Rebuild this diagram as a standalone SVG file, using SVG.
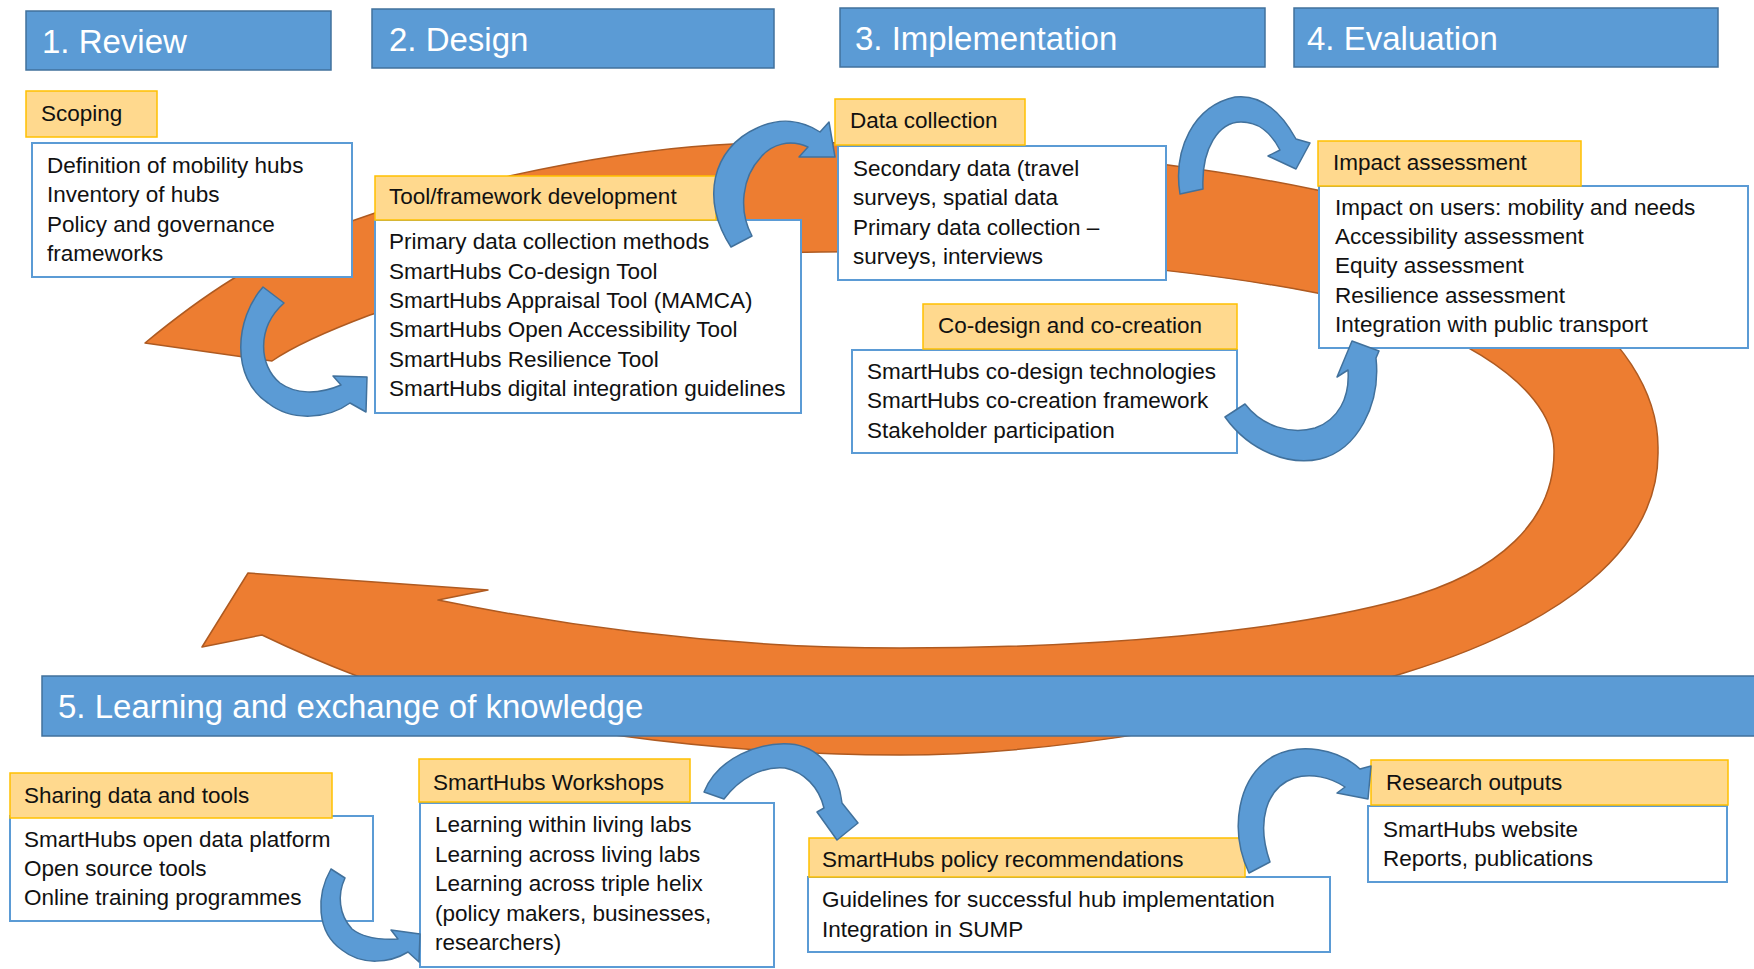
<svg xmlns="http://www.w3.org/2000/svg" width="1754" height="969" viewBox="0 0 1754 969">
<style>
.hdr{fill:#5B9BD5;stroke:#41719C;stroke-width:1.5}
.ht{font-family:"Liberation Sans",Arial,sans-serif;font-size:33px;fill:#fff}
.lbl{fill:#FFD98E;stroke:#FFC000;stroke-width:1.5}
.box{fill:#fff;stroke:#5B9BD5;stroke-width:2}
.t{font-family:"Liberation Sans",Arial,sans-serif;font-size:22.5px;fill:#111}
.ba{fill:#5B9BD5;stroke:#41719C;stroke-width:1.5;stroke-linejoin:round}
.orange{fill:#ED7D31;stroke:#AE5A21;stroke-width:1.5;stroke-linejoin:round}
</style>
<rect width="1754" height="969" fill="#fff"/>

<g id="cycle-arrow">
<path class="orange" d="M145,343 C185,310 260,250 375,213 C490,175 640,145 760,143 C950,140 1150,155 1317,190 C1500,230 1660,330 1658,450 C1660,550 1560,625 1404,673 C1250,722 1050,755 900,755 C720,755 500,728 357,676 Q310,658 262,635 L202,647 L248,573 L488,590 L438,600 C560,625 720,648 900,648 C1100,648 1280,632 1400,600 C1500,573 1555,520 1554,450 C1553,380 1440,320 1317,293 C1200,270 1000,250 820,252 C650,254 480,280 370,315 C330,330 295,345 272,361 Z"/>
</g>

<g id="hdr-review"><rect class="hdr" x="26" y="11" width="305" height="59"/><text class="ht" x="42" y="53">1. Review</text></g>
<g id="hdr-design"><rect class="hdr" x="372" y="9" width="402" height="59"/><text class="ht" x="389" y="51">2. Design</text></g>
<g id="hdr-implementation"><rect class="hdr" x="840" y="8" width="425" height="59"/><text class="ht" x="855" y="50">3. Implementation</text></g>
<g id="hdr-evaluation"><rect class="hdr" x="1294" y="8" width="424" height="59"/><text class="ht" x="1307" y="50">4. Evaluation</text></g>
<g id="hdr-learning"><rect class="hdr" x="42" y="676" width="1720" height="60"/><text class="ht" x="58" y="718">5. Learning and exchange of knowledge</text></g>

<g id="node-scoping">
<rect class="box" x="32" y="143" width="320" height="134"/>
<rect class="lbl" x="26" y="91" width="131" height="46"/>
<text class="t" x="41" y="121">Scoping</text>
<text class="t" x="47" y="173">Definition of mobility hubs</text>
<text class="t" x="47" y="202">Inventory of hubs</text>
<text class="t" x="47" y="231.5">Policy and governance</text>
<text class="t" x="47" y="261">frameworks</text>
</g>

<g id="node-tool">
<rect class="box" x="375" y="220" width="426" height="193"/>
<rect class="lbl" x="375" y="176" width="341" height="44"/>
<text class="t" x="389" y="204">Tool/framework development</text>
<text class="t" x="389" y="249">Primary data collection methods</text>
<text class="t" x="389" y="278.5">SmartHubs Co-design Tool</text>
<text class="t" x="389" y="308">SmartHubs Appraisal Tool (MAMCA)</text>
<text class="t" x="389" y="337">SmartHubs Open Accessibility Tool</text>
<text class="t" x="389" y="366.5">SmartHubs Resilience Tool</text>
<text class="t" x="389" y="396">SmartHubs digital integration guidelines</text>
</g>

<g id="node-data">
<rect class="box" x="838" y="146" width="328" height="134"/>
<rect class="lbl" x="835" y="99" width="190" height="46"/>
<text class="t" x="850" y="128">Data collection</text>
<text class="t" x="853" y="176">Secondary data (travel</text>
<text class="t" x="853" y="205">surveys, spatial data</text>
<text class="t" x="853" y="234.5">Primary data collection –</text>
<text class="t" x="853" y="264">surveys, interviews</text>
</g>

<g id="node-codesign">
<rect class="box" x="852" y="350" width="385" height="103"/>
<rect class="lbl" x="923" y="304" width="314" height="45"/>
<text class="t" x="938" y="333">Co-design and co-creation</text>
<text class="t" x="867" y="379">SmartHubs co-design technologies</text>
<text class="t" x="867" y="408">SmartHubs co-creation framework</text>
<text class="t" x="867" y="438">Stakeholder participation</text>
</g>

<g id="node-impact">
<rect class="box" x="1319" y="186" width="429" height="162"/>
<rect class="lbl" x="1318" y="141" width="263" height="45"/>
<text class="t" x="1333" y="170">Impact assessment</text>
<text class="t" x="1335" y="215">Impact on users: mobility and needs</text>
<text class="t" x="1335" y="244">Accessibility assessment</text>
<text class="t" x="1335" y="273">Equity assessment</text>
<text class="t" x="1335" y="303">Resilience assessment</text>
<text class="t" x="1335" y="332">Integration with public transport</text>
</g>

<g id="node-sharing">
<rect class="box" x="10" y="816" width="363" height="105"/>
<rect class="lbl" x="10" y="773" width="322" height="45"/>
<text class="t" x="24" y="803">Sharing data and tools</text>
<text class="t" x="24" y="847">SmartHubs open data platform</text>
<text class="t" x="24" y="876">Open source tools</text>
<text class="t" x="24" y="905">Online training programmes</text>
</g>

<g id="node-workshops">
<rect class="box" x="420" y="803" width="354" height="164"/>
<rect class="lbl" x="419" y="759" width="271" height="43"/>
<text class="t" x="433" y="790">SmartHubs Workshops</text>
<text class="t" x="435" y="832">Learning within living labs</text>
<text class="t" x="435" y="861.5">Learning across living labs</text>
<text class="t" x="435" y="891">Learning across triple helix</text>
<text class="t" x="435" y="920.5">(policy makers, businesses,</text>
<text class="t" x="435" y="950">researchers)</text>
</g>

<g id="node-policy">
<rect class="box" x="808" y="877" width="522" height="75"/>
<rect class="lbl" x="809" y="838" width="436" height="39"/>
<text class="t" x="822" y="867">SmartHubs policy recommendations</text>
<text class="t" x="822" y="907">Guidelines for successful hub implementation</text>
<text class="t" x="822" y="937">Integration in SUMP</text>
</g>

<g id="node-research">
<rect class="box" x="1368" y="806" width="359" height="76"/>
<rect class="lbl" x="1371" y="760" width="357" height="45"/>
<text class="t" x="1386" y="790">Research outputs</text>
<text class="t" x="1383" y="837">SmartHubs website</text>
<text class="t" x="1383" y="866">Reports, publications</text>
</g>

<g id="connectors">
<path id="arrow-scoping-tool" class="ba" d="M263,287 C235,318 230,378 268,403 C292,422 328,419 350,403 L366,412 L367,377 L333,376 L341,385 C318,395 295,394 280,383 C259,366 256,328 284,303 Z"/>
<path id="arrow-tool-data" class="ba" d="M731,247 C700,200 712,148 757,128 C780,117 802,120 820,132 L829,122 L835,157 L799,157 L808,147 C790,139 772,144 761,157 C742,177 738,210 752,236 Z"/>
<path id="arrow-data-impact" class="ba" d="M1180,194 C1173,150 1193,106 1235,97 C1260,94 1280,110 1296,139 L1310,143 L1296,169 L1268,156 L1280,150 C1270,131 1258,122 1241,122 C1219,122 1201,148 1203,189 Z"/>
<path id="arrow-codesign-impact" class="ba" d="M1225,417 C1250,452 1290,466 1320,459 C1357,450 1381,405 1376,358 L1379,351 L1352,341 L1337,377 L1348,370 C1350,398 1338,420 1315,428 C1290,435 1262,426 1245,404 Z"/>
<path id="arrow-sharing-workshops" class="ba" d="M331,869 C316,895 316,932 342,950 C362,966 390,963 408,952 L419,962 L420,934 L391,930 L398,939 C380,940 362,937 352,929 C339,915 337,895 345,878 Z"/>
<path id="arrow-workshops-policy" class="ba" d="M704,792 C718,757 760,742 790,744 C817,746 838,768 842,803 L858,823 L837,840 L817,812 L824,808 C819,787 804,772 785,768 C762,766 740,778 724,799 Z"/>
<path id="arrow-policy-research" class="ba" d="M1249,873 C1229,830 1237,777 1274,756 C1300,743 1337,748 1360,769 L1371,766 L1368,799 L1337,793 L1345,787 C1330,777 1311,773 1294,778 C1266,788 1256,822 1270,862 Z"/>
</g>
</svg>
